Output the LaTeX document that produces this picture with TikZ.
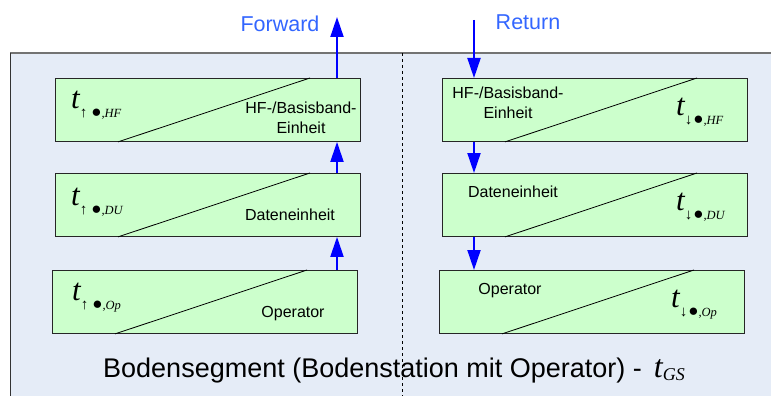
\documentclass[tikz,border=0pt]{standalone}
\usepackage{fontspec}
\setmainfont{Liberation Sans}
\newfontfamily\tms{Liberation Serif}
\usetikzlibrary{arrows.meta}
\definecolor{panelbg}{HTML}{E5ECF7}
\definecolor{unitgreen}{HTML}{CCFFCC}
\definecolor{dirblue}{HTML}{3366FF}
\definecolor{flowblue}{HTML}{0000FF}
% delay symbol t with direction arrow, bullet and index
\newcommand\delaysym[3]{{\tms\itshape\fontsize{31}{31}\selectfont t}\raisebox{-9pt}{\tms\fontsize{15}{15}\selectfont#1\hspace{#3}{\fontsize{17}{17}\selectfont●}{\fontsize{12.5}{12.5}\selectfont\textit{,#2}}}}
\begin{document}
\begin{tikzpicture}[x=1pt,y=-1pt,
  unit/.style={draw=black!85, fill=unitgreen, line width=0.9pt,
    minimum width=305pt, minimum height=63pt, inner sep=0pt, anchor=north west},
  split/.style={draw=black, line width=0.8pt},
  flow/.style={draw=flowblue, line width=2pt,
    -{Triangle[width=13pt,length=20pt]}},
  lbl/.style={font=\fontsize{16}{16}\selectfont, inner sep=0pt, anchor=base},
  sym/.style={inner sep=0pt, anchor=base west},
  dir/.style={font=\fontsize{21.5}{21.5}\selectfont, text=dirblue, inner sep=0pt, anchor=base}]
\useasboundingbox (0,0) rectangle (771,396);

% ground segment panel
\fill[panelbg] (10,53) rectangle (771,396);
\draw[black!55, line width=1.4pt] (771,53) -- (10,53);
\draw[black!80, line width=1pt] (10,53) -- (10,396);
\draw[dashed, line width=0.8pt] (402,53) -- (402,396);

% forward chain (left)
\node[unit] (hfL) at (55,78) {};
\node[unit] (duL) at (55,173) {};
\node[unit] (opL) at (52,270) {};
% return chain (right)
\node[unit] (hfR) at (442,78) {};
\node[unit] (duR) at (442,173) {};
\node[unit] (opR) at (439,270) {};

\foreach \u in {hfL,duL,opL,hfR,duR,opR}
  \draw[split] ([xshift=63pt]\u.south west) -- ([xshift=255pt]\u.north west);

% delay symbols
\node[sym] (tHFL) at (71,108) {\delaysym{↑}{HF}{4pt}};
\node[sym] (tDUL) at (71,205) {\delaysym{↑}{DU}{4pt}};
\node[sym] (tOpL) at (72,300) {\delaysym{↑}{Op}{4pt}};
\node[sym] (tHFR) at (676,115) {\delaysym{↓}{HF}{1pt}};
\node[sym] (tDUR) at (676,210) {\delaysym{↓}{DU}{1pt}};
\node[sym] (tOpR) at (671,307) {\delaysym{↓}{Op}{1pt}};

% unit names
\node[lbl] (nHFL1) at (301,113) {HF-/Basisband-};
\node[lbl] (nHFL2) at (301,133) {Einheit};
\node[lbl] (nDUL) at (290,220) {Dateneinheit};
\node[lbl] (nOpL) at (293,317) {Operator};
\node[lbl] (nHFR1) at (508,98) {HF-/Basisband-};
\node[lbl] (nHFR2) at (508,118) {Einheit};
\node[lbl] (nDUR) at (513,197) {Dateneinheit};
\node[lbl] (nOpR) at (510,294) {Operator};

% direction labels and signal flow
\node[dir] (fwd) at (280,32) {Forward};
\node[dir] (ret) at (528,30) {Return};
\coordinate (fwdtip) at (337,17);
\coordinate (retstart) at (474,20);
\draw[flow] (opL.north -| fwdtip) -- (duL.south -| fwdtip);
\draw[flow] (duL.north -| fwdtip) -- (hfL.south -| fwdtip);
\draw[flow] (hfL.north -| fwdtip) -- (fwdtip);
\draw[flow] (retstart) -- (hfR.north -| retstart);
\draw[flow] (hfR.south -| retstart) -- (duR.north -| retstart);
\draw[flow] (duR.south -| retstart) -- (opR.north -| retstart);

% caption
\node[inner sep=0pt, anchor=base west, font=\fontsize{27}{27}\selectfont] (caption) at (103,377)
  {Bodensegment (Bodenstation mit Operator) -\hspace{12pt}{\tms\itshape\fontsize{32}{32}\selectfont t}\raisebox{-3pt}{\tms\itshape\fontsize{18}{18}\selectfont GS}};
\end{tikzpicture}
\end{document}
